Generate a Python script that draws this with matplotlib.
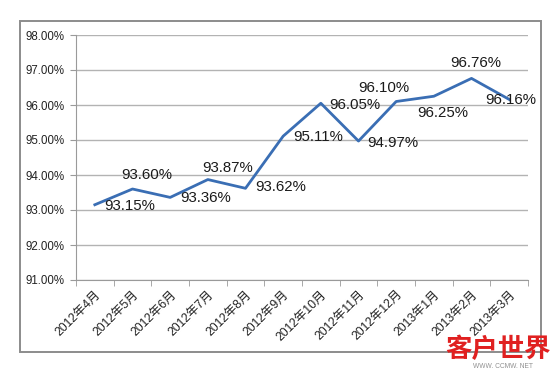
import matplotlib
matplotlib.use("Agg")
import matplotlib.pyplot as plt
from matplotlib.patches import Rectangle

plt.rcParams["font.family"] = ["Liberation Sans", "Noto Sans CJK SC", "DejaVu Sans"]

# data
months = ["2012年4月", "2012年5月", "2012年6月", "2012年7月", "2012年8月", "2012年9月",
          "2012年10月", "2012年11月", "2012年12月", "2013年1月", "2013年2月", "2013年3月"]
rates = [93.15, 93.60, 93.36, 93.87, 93.62, 95.11, 96.05, 94.97, 96.10, 96.25, 96.76, 96.16]
yticks = [91, 92, 93, 94, 95, 96, 97, 98]

# label offsets in pixels (dx, dy) relative to each point
offsets = [(35, -1), (14, 14), (35, -1), (20, 12), (35, 1), (35, -1),
           (34, -2), (34, -2), (-12, 13), (9, -17), (4, 15), (2, -1)]

fig = plt.figure(figsize=(5.6, 3.74), dpi=100)
fig.patches.append(Rectangle((20 / 560, 1 - 352 / 374), 521 / 560, 331 / 374,
                             transform=fig.transFigure, fill=False,
                             edgecolor="#8c8c8c", linewidth=1.4))

ax = fig.add_axes([76 / 560, 1 - 280 / 374, 452 / 560, 245 / 374])
x = list(range(len(months)))
ax.plot(x, rates, color="#3a6eb4", linewidth=2)

for xi, v, (dx, dy) in zip(x, rates, offsets):
    ax.annotate(f"{v:.2f}%", (xi, v), xytext=(dx * 0.72, dy * 0.72),
                textcoords="offset points", ha="center", va="center",
                fontsize=10.8, color="#1a1a1a")

ax.set_xlim(-0.5, len(months) - 0.5)
ax.set_ylim(91, 98)
ax.set_yticks(yticks)
ax.set_yticklabels([f"{t:.2f}%" for t in yticks], fontsize=8.3, color="#222222")
ax.yaxis.grid(True, color="#b3b3b3", linewidth=1)
ax.set_axisbelow(True)

ax.set_xticks(x)
ax.set_xticklabels(months, rotation=45, ha="right", rotation_mode="anchor",
                   fontsize=8.8, color="#222222")
ax.set_xticks([i - 0.5 for i in range(len(months) + 1)], minor=True)
ax.tick_params(axis="x", which="major", length=0, pad=6)
ax.tick_params(axis="x", which="minor", length=4, color="#9a9a9a")
ax.tick_params(axis="y", length=4, color="#9a9a9a", pad=4)

for s in ["top", "right"]:
    ax.spines[s].set_visible(False)
for s in ["left", "bottom"]:
    ax.spines[s].set_color("#9a9a9a")

# watermark
fig.text(498 / 560, 1 - 349 / 374, "客户世界", family=["Noto Sans CJK SC"],
         fontsize=19, fontweight="bold", color="#e02020", ha="center", va="center")
fig.text(503 / 560, 1 - 367 / 374, "WWW. CCMW. NET", fontsize=4.8,
         color="#909090", ha="center", va="center")

fig.savefig("out.png", dpi=100)
